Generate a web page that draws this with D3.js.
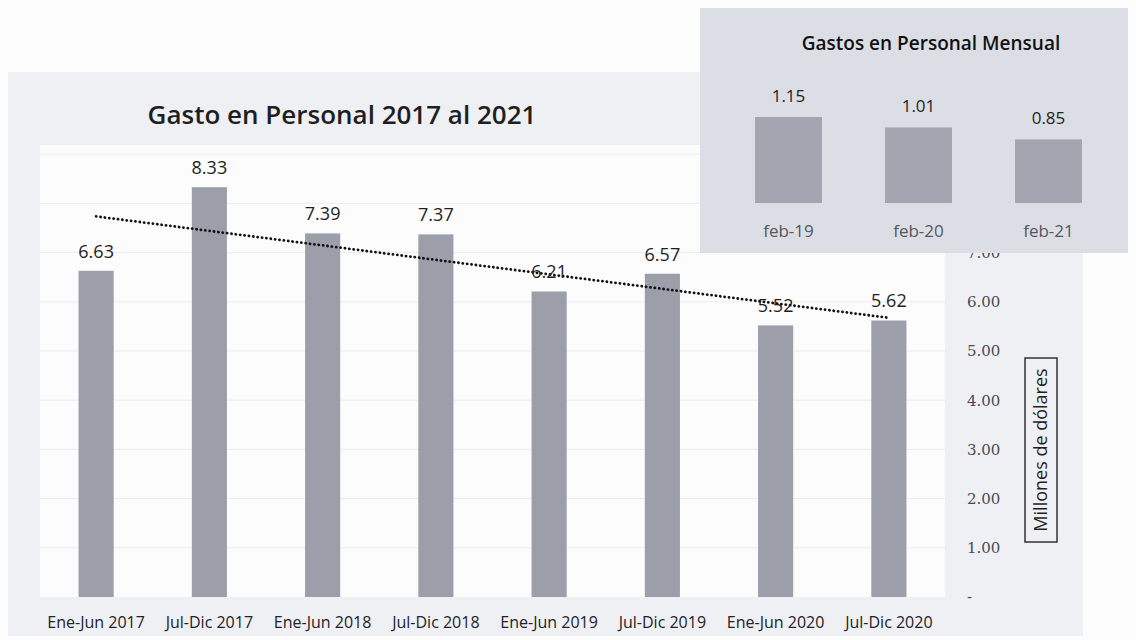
<!DOCTYPE html>
<html>
<head>
<meta charset="utf-8">
<script src="https://cdn.jsdelivr.net/npm/d3@7"></script>
<style>
  html, body { margin: 0; padding: 0; background: #fdfdfe; }
  svg { display: block; }
</style>
</head>
<body>
<svg id="chart" width="1136" height="640"></svg>
<script>
// main chart data
const periods = ["Ene-Jun 2017", "Jul-Dic 2017", "Ene-Jun 2018", "Jul-Dic 2018",
                 "Ene-Jun 2019", "Jul-Dic 2019", "Ene-Jun 2020", "Jul-Dic 2020"];
const gasto = [6.63, 8.33, 7.39, 7.37, 6.21, 6.57, 5.52, 5.62];
const yTicks = [0, 1, 2, 3, 4, 5, 6, 7];

// inset data
const meses = ["feb-19", "feb-20", "feb-21"];
const mensual = [1.15, 1.01, 0.85];

const svg = d3.select("#chart");
const font = "Open Sans, Liberation Sans, sans-serif";

// outer frame of the main chart
svg.append("rect")
  .attr("x", 8).attr("y", 72).attr("width", 1075).attr("height", 564)
  .attr("fill", "#eff0f4");
svg.append("rect")
  .attr("x", 40).attr("y", 145).attr("width", 905).attr("height", 452)
  .attr("fill", "#fcfcfd");

const x = d3.scaleBand()
  .domain(periods)
  .range([39.5, 945.5])
  .paddingInner(0.69)
  .paddingOuter(0.345);

const y = d3.scaleLinear()
  .domain([0, 9])
  .range([597, 597 - 9 * 49.2]);

// faint gridlines
svg.append("g")
  .selectAll("line")
  .data(d3.range(1, 10))
  .join("line")
  .attr("x1", 40).attr("x2", 945)
  .attr("y1", d => y(d)).attr("y2", d => y(d))
  .attr("stroke", "#eaecf0")
  .attr("stroke-width", 1);

// title
svg.append("text")
  .attr("x", 342).attr("y", 124)
  .attr("text-anchor", "middle")
  .attr("font-family", font)
  .attr("font-weight", 600)
  .attr("font-size", 26)
  .attr("fill", "#1f1f22")
  .text("Gasto en Personal 2017 al 2021");

// bars
svg.append("g")
  .selectAll("rect")
  .data(gasto)
  .join("rect")
  .attr("x", (d, i) => x(periods[i]))
  .attr("y", d => y(d))
  .attr("width", x.bandwidth())
  .attr("height", d => y(0) - y(d))
  .attr("fill", "#9c9fa9");

// linear trend line (least squares over the bars)
const n = gasto.length;
const xs = d3.range(1, n + 1);
const mx = d3.mean(xs), my = d3.mean(gasto);
const slope = d3.sum(xs, (v, i) => (v - mx) * (gasto[i] - my)) / d3.sum(xs, v => (v - mx) ** 2);
const trend = xs.map(v => my + slope * (v - mx));

svg.append("path")
  .datum(trend)
  .attr("d", d3.line()
    .x((d, i) => x(periods[i]) + x.bandwidth() / 2)
    .y(d => y(d)))
  .attr("fill", "none")
  .attr("stroke", "#111")
  .attr("stroke-width", 2.8)
  .attr("stroke-linecap", "round")
  .attr("stroke-dasharray", "0.1,4.3");

// value labels
svg.append("g")
  .selectAll("text")
  .data(gasto)
  .join("text")
  .attr("x", (d, i) => x(periods[i]) + x.bandwidth() / 2)
  .attr("y", d => y(d) - 13)
  .attr("text-anchor", "middle")
  .attr("font-family", font)
  .attr("font-size", 18)
  .attr("fill", "#1f1f22")
  .text(d => d.toFixed(2));

// category labels
svg.append("g")
  .selectAll("text")
  .data(periods)
  .join("text")
  .attr("x", d => x(d) + x.bandwidth() / 2)
  .attr("y", 628)
  .attr("text-anchor", "middle")
  .attr("font-family", font)
  .attr("font-size", 16)
  .attr("fill", "#222228")
  .text(d => d);

// right axis
const yAxis = d3.axisRight(y)
  .tickValues(yTicks)
  .tickSize(0)
  .tickPadding(0)
  .tickFormat(d => d === 0 ? "-" : d.toFixed(2));
const axisG = svg.append("g")
  .attr("transform", "translate(967,0)")
  .call(yAxis);
axisG.select(".domain").remove();
axisG.selectAll("text")
  .attr("font-family", "DejaVu Serif, serif")
  .attr("font-size", 15)
  .attr("fill", "#4a4a55");

// axis title in a box
const tg = svg.append("g").attr("transform", "translate(1041,450) rotate(-90)");
tg.append("rect")
  .attr("x", -92).attr("y", -16).attr("width", 184).attr("height", 32)
  .attr("fill", "none").attr("stroke", "#333").attr("stroke-width", 1.5);
tg.append("text")
  .attr("x", 0).attr("y", 6)
  .attr("text-anchor", "middle")
  .attr("font-family", font)
  .attr("font-size", 18)
  .attr("fill", "#1f1f22")
  .text("Millones de dólares");

// inset chart
svg.append("rect")
  .attr("x", 700).attr("y", 8).attr("width", 428).attr("height", 245)
  .attr("fill", "#dcdee5");

svg.append("text")
  .attr("x", 931).attr("y", 50)
  .attr("text-anchor", "middle")
  .attr("font-family", font)
  .attr("font-weight", 600)
  .attr("font-size", 19)
  .attr("fill", "#111")
  .text("Gastos en Personal Mensual");

const xi = d3.scaleBand()
  .domain(meses)
  .range([723.5, 1113.5])
  .paddingInner(0.485)
  .paddingOuter(0.2425);
const yi = d3.scaleLinear()
  .domain([0, 1.5])
  .range([203, 203 - 1.5 * 74.8]);

svg.append("g")
  .selectAll("rect")
  .data(mensual)
  .join("rect")
  .attr("x", (d, i) => xi(meses[i]))
  .attr("y", d => yi(d))
  .attr("width", xi.bandwidth())
  .attr("height", d => yi(0) - yi(d))
  .attr("fill", "#a3a6b0");

svg.append("g")
  .selectAll("text")
  .data(mensual)
  .join("text")
  .attr("x", (d, i) => xi(meses[i]) + xi.bandwidth() / 2)
  .attr("y", d => yi(d) - 15)
  .attr("text-anchor", "middle")
  .attr("font-family", font)
  .attr("font-size", 17)
  .attr("fill", "#1f1f22")
  .text(d => d.toFixed(2));

svg.append("g")
  .selectAll("text")
  .data(meses)
  .join("text")
  .attr("x", d => xi(d) + xi.bandwidth() / 2)
  .attr("y", 237)
  .attr("text-anchor", "middle")
  .attr("font-family", font)
  .attr("font-size", 17)
  .attr("fill", "#55575f")
  .text(d => d);
</script>
</body>
</html>
